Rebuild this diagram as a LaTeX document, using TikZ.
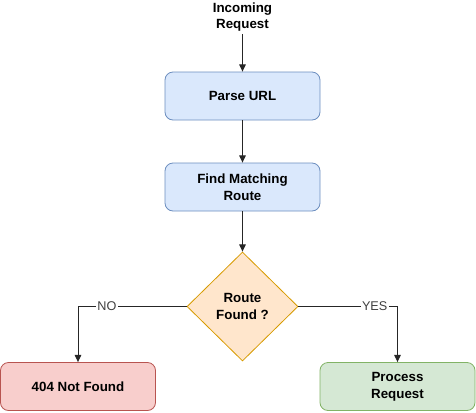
\documentclass[tikz,border=0pt]{standalone}
\usepackage{fontspec}
\setmainfont{Liberation Sans}
\usetikzlibrary{shapes.geometric,arrows.meta}
\definecolor{bluefill}{HTML}{DAE8FC}
\definecolor{bluedraw}{HTML}{6C8EBF}
\definecolor{orfill}{HTML}{FFE6CC}
\definecolor{ordraw}{HTML}{D79B00}
\definecolor{redfill}{HTML}{F8CECC}
\definecolor{reddraw}{HTML}{B85450}
\definecolor{grfill}{HTML}{D5E8D4}
\definecolor{grdraw}{HTML}{82B366}
\tikzset{
  px/.style={x=0.75pt,y=-0.75pt},
  bfont/.style={font=\bfseries\fontsize{10}{12.5}\selectfont},
  box/.style={rectangle,rounded corners=6pt,minimum width=116.25pt,minimum height=36pt,inner sep=0pt,bfont,align=center,line width=0.6pt},
  decision/.style={diamond,minimum width=83.25pt,minimum height=81.75pt,inner sep=0pt,bfont,align=center,line width=0.6pt},
  conn/.style={draw=black!85,line width=0.75pt,-{Triangle[length=5.5pt,width=5pt]}},
  lbl/.style={fill=white,inner sep=1pt,font=\fontsize{9.5}{11}\selectfont,text=black!75}
}
\begin{document}
\begin{tikzpicture}[px]
\useasboundingbox (0,0) rectangle (476,412);
\node[bfont,align=center,inner sep=0pt] (inc) at (242.5,17) {Incoming\\Request};
\node[box,fill=bluefill,draw=bluedraw] (parse) at (242.5,96) {Parse URL};
\node[box,fill=bluefill,draw=bluedraw] (find) at (242.5,187) {Find Matching\\Route};
\node[decision,fill=orfill,draw=ordraw] (dec) at (242.5,306.5) {Route\\Found ?};
\node[box,fill=redfill,draw=reddraw] (nf) at (78,386.5) {404 Not Found};
\node[box,fill=grfill,draw=grdraw] (pr) at (397.5,386.5) {Process\\Request};
\coordinate (incb) at (242.5,34);
\draw[conn] (incb) -- (parse.north);
\draw[conn] (parse.south) -- (find.north);
\draw[conn] (find.south) -- (dec.north);
\draw[conn] (dec.west) -| node[lbl,pos=0.367] {NO} (nf.north);
\draw[conn] (dec.east) -| node[lbl,pos=0.385] {YES} (pr.north);
\end{tikzpicture}
\end{document}
